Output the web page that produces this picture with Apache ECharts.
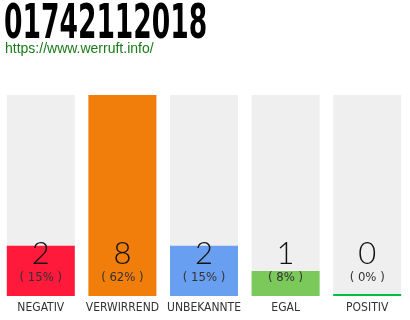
<!DOCTYPE html>
<html><head><meta charset="utf-8">
<script src="https://cdn.jsdelivr.net/npm/echarts@6/dist/echarts.min.js"></script>
<style>html,body{margin:0;padding:0;background:#fff}#c{width:410px;height:320px}</style>
</head><body><div id="c"></div>
<script>
const titleText = '01742112018';
const subtitleText = 'https://www.werruft.info/';
const categories = ['NEGATIV', 'VERWIRREND', 'UNBEKANNTE', 'EGAL', 'POSITIV'];
const counts = [2, 8, 2, 1, 0];
const percents = ['15%', '62%', '15%', '8%', '0%'];
const barColors = ['#ff1a3c', '#f17e0b', '#699ff0', '#7cc95b', '#00c040'];
const axisMax = 8;

const chart = echarts.init(document.getElementById('c'), null, {renderer: 'canvas'});
const narrow = '"DejaVu Sans Condensed", sans-serif';
chart.setOption({
  animation: false,
  graphic: [
    {
      type: 'text', left: 4, top: 2, scaleX: 0.615, originX: 0,
      style: {text: titleText, font: 'bold 48px "DejaVu Sans Condensed", sans-serif', fill: '#000'}
    },
    {
      type: 'text', left: 5, top: 42,
      style: {text: subtitleText, font: '14px "Liberation Sans", Arial, sans-serif', fill: '#1a7a1a'}
    }
  ],
  grid: {left: -2, width: 410, top: 95, bottom: 24},
  xAxis: {
    type: 'category', data: categories,
    axisLine: {show: false}, axisTick: {show: false},
    axisLabel: {interval: 0, fontFamily: narrow, fontSize: 12, color: '#333', margin: 6}
  },
  yAxis: {type: 'value', min: 0, max: axisMax, show: false, splitLine: {show: false}},
  series: [
    {
      type: 'bar', barWidth: 68, barGap: '-100%', silent: true,
      data: categories.map(() => axisMax),
      itemStyle: {color: '#efefef'}, z: 1
    },
    {
      type: 'bar', barWidth: 68, barMinHeight: 2, z: 2,
      data: counts.map((v, i) => ({value: v, itemStyle: {color: barColors[i]}})),
      label: {
        show: true, position: 'insideBottom', distance: 0, offset: [0, -9],
        formatter: p => '{v|' + counts[p.dataIndex] + '}\n{p|( ' + percents[p.dataIndex] + ' )}',
        rich: {
          v: {fontFamily: 'Lato, sans-serif', fontSize: 31, color: '#111', lineHeight: 30, fontWeight: 300},
          p: {fontFamily: narrow, fontSize: 13, color: '#333', lineHeight: 18}
        }
      }
    }
  ]
});
</script></body></html>
